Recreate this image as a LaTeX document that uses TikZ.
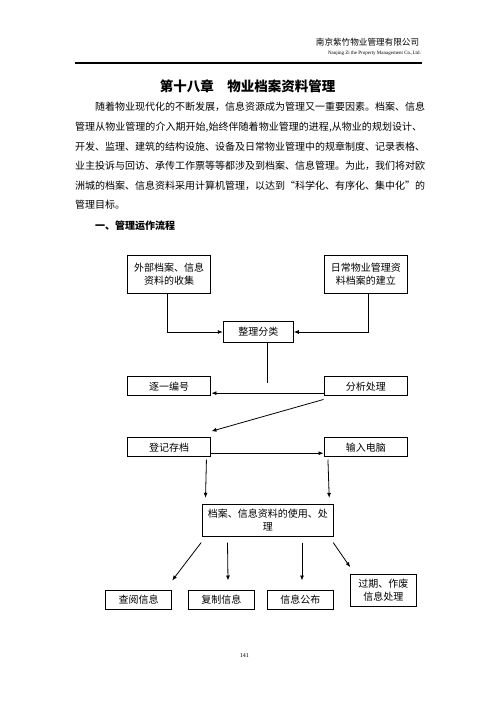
\documentclass[tikz,border=0pt]{standalone}
\usepackage{fontspec}
\setmainfont{Liberation Serif}
\newfontfamily\cjk{Noto Sans CJK SC}
\usetikzlibrary{arrows.meta,calc}
\makeatletter
\def\spreadline#1{\spr@first#1\relax}
\def\spr@first#1{#1\spr@rest}
\def\spr@rest#1{\ifx#1\relax\else\hfil#1\expandafter\spr@rest\fi}
\makeatother
\tikzset{
  box/.style={draw, line width=1pt, inner sep=0pt, align=center,
    font=\cjk\fontsize{10}{13}\selectfont},
  arr/.style={line width=0.8pt, -{Latex[length=5pt,width=4pt]}},
  ln/.style={line width=0.8pt},
  bodyline/.style={anchor=base west, inner sep=0pt,
    font=\cjk\fontsize{10}{12}\selectfont},
  lbox/.style={box, minimum width=83.5pt},
  sbox/.style={box, minimum width=66pt, minimum height=19pt},
}
\begin{document}
\begin{tikzpicture}[x=1pt,y=-1pt]
\useasboundingbox[fill=white] (0,0) rectangle (496,702);
% header
\node[anchor=base east, inner sep=0pt, font=\cjk\fontsize{8.6}{10}\selectfont] (hcn) at (419.3,45) {南京紫竹物业管理有限公司};
\node[anchor=base east, inner sep=0pt, font=\fontsize{5}{6}\selectfont] (hen) at (421,54) {Nanjing Zi the Property Management Co.,Ltd.};
\coordinate (hl1) at (75,63);
\coordinate (hl2) at (422,63);
\draw[line width=1.2pt] (hl1) -- (hl2);
% title
\node[anchor=base, inner sep=0pt, font=\cjk\bfseries\fontsize{13.5}{16}\selectfont] (title) at (247.5,91.1) {第十八章　物业档案资料管理};
% paragraph
\node[bodyline] (p1) at (75,110.8) {\hbox to 347pt{\hspace*{20pt}\spreadline{随着物业现代化的不断发展，信息资源成为管理又一重要因素。档案、信息}}};
\node[bodyline] (p2) at (75,130.4) {\hbox to 347pt{\spreadline{管理从物业管理的介入期开始,始终伴随着物业管理的进程,从物业的规划设计、}}};
\node[bodyline] (p3) at (75,150) {\hbox to 347pt{\spreadline{开发、监理、建筑的结构设施、设备及日常物业管理中的规章制度、记录表格、}}};
\node[bodyline] (p4) at (75,169.6) {\hbox to 347pt{\spreadline{业主投诉与回访、承传工作票等等都涉及到档案、信息管理。为此，我们将对欧}}};
\node[bodyline] (p5) at (75,189.2) {\hbox to 347pt{\spreadline{洲城的档案、信息资料采用计算机管理，以达到“科学化、有序化、集中化”的}}};
\node[bodyline] (p6) at (75,208.8) {管理目标。};
\node[anchor=base west, inner sep=0pt, font=\cjk\bfseries\fontsize{10}{12}\selectfont] (sec) at (95,229.8) {一、管理运作流程};
% flowchart boxes
\node[lbox, minimum height=38.3pt] (A) at (169.2,274.2) {外部档案、信息\\资料的收集};
\node[lbox, minimum height=38.3pt] (B) at (365.8,274.2) {日常物业管理资\\料档案的建立};
\node[box, minimum width=70pt, minimum height=20.6pt] (C) at (258.3,332) {整理分类};
\node[lbox, minimum height=19.3pt] (D) at (169.2,386.3) {逐一编号};
\node[lbox, minimum height=19.3pt] (E) at (365.8,386.3) {分析处理};
\node[lbox, minimum height=19pt] (F) at (169.2,447.2) {登记存档};
\node[lbox, minimum height=19pt] (G) at (365.8,447.2) {输入电脑};
\node[box, minimum width=131pt, minimum height=31.7pt] (H) at (267.8,520.2) {档案、信息资料的使用、处\\理};
\node[sbox] (I) at (138.7,599.8) {查阅信息};
\node[sbox] (J) at (221.3,599.8) {复制信息};
\node[sbox] (K) at (300.3,599.8) {信息公布};
\node[box, minimum width=66pt, minimum height=32pt] (L) at (383.3,590.3) {过期、作废\\信息处理};
% connectors
\draw[arr] ($(A.south)+(-1.5,0)$) |- (C.west);
\draw[arr] ($(B.south)+(2.5,0)$) |- (C.east);
\coordinate (cend) at (267.3,383.3);
\draw[ln] (C.south -| cend) -- (cend);
\draw[arr] ($(E.south west)+(0,-3.3)$) -- ($(D.south east)+(0,-3.3)$);
\draw[arr] ($(E.south west)+(0,3)$) -- ($(F.north east)+(0,-6)$);
\draw[arr] ($(F.south east)+(0,-4)$) -- ($(G.south west)+(0,-4)$);
\draw[arr] ($(F.south east)+(-5,2.3)$) -- ($(H.north west)+(3.7,-6)$);
\draw[arr] ($(G.south west)+(4.4,2.3)$) -- ($(H.north east)+(-4.6,-6)$);
\draw[arr] ($(H.south west)+(-0.6,6)$) -- ($(I.north east)+(0,-9.3)$);
\draw[arr] ($(H.south west)+(25.7,6)$) -- ($(J.north)+(6.7,-9.3)$);
\draw[arr] ($(H.south)+(34.2,6)$) -- ($(K.north)+(1.7,-9.3)$);
\draw[arr] ($(H.south east)+(-0.6,6)$) -- ($(L.north west)+(0.4,-6.6)$);
% page number
\node[anchor=base, inner sep=0pt, font=\fontsize{6}{7}\selectfont] (pn) at (244.3,657) {141};
\end{tikzpicture}
\end{document}
